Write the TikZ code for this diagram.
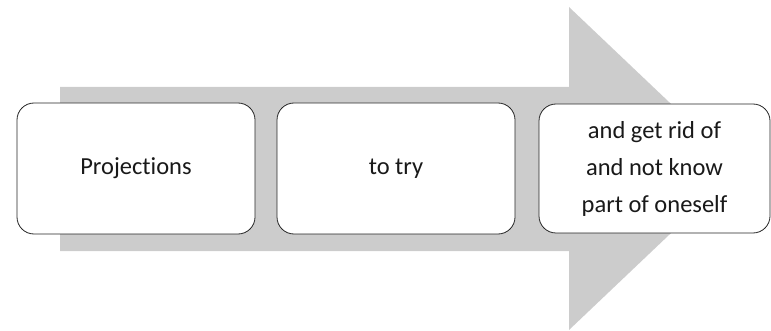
\documentclass[tikz,border=0pt]{standalone}
\usepackage{fontspec}
\setmainfont{Carlito}[Ligatures={NoCommon}]
\begin{document}
\begin{tikzpicture}[x=1pt,y=-1pt,
  stagebox/.style={draw=black!85, line width=0.8pt, fill=white, rounded corners=17pt},
  stagetext/.style={align=center, font=\fontsize{24.5}{37}\selectfont, text=black!90}]
\useasboundingbox (0,0) rectangle (771,331);
\clip (0,0) rectangle (771,331);
\fill[gray!40] (60,87) -- (569,87) -- (569,7) -- (739,168.5) -- (569,330) -- (569,251) -- (60,251) -- cycle;
\draw[stagebox] (17,103) rectangle (255,234);
\draw[stagebox] (277,103) rectangle (515,234);
\draw[stagebox] (539,104) rectangle (770,233);
\node[stagetext] (a) at (136,168.5) {Projections};
\node[stagetext] (b) at (396,168.5) {to try};
\node[stagetext] (c) at (654.5,168.5) {and get rid of\\and not know\\part of oneself};
\end{tikzpicture}
\end{document}
